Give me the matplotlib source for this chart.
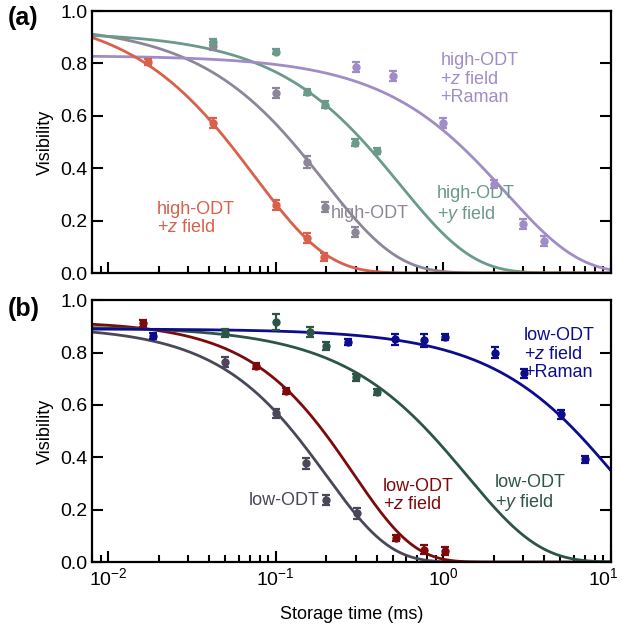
import numpy as np
import matplotlib
matplotlib.use('Agg')
import matplotlib.pyplot as plt
import matplotlib.transforms as mtransforms

plt.rcParams['font.family'] = ['Liberation Sans', 'DejaVu Sans']
plt.rcParams['mathtext.fontset'] = 'custom'
plt.rcParams['mathtext.rm'] = 'Liberation Sans'
plt.rcParams['mathtext.it'] = 'Liberation Sans:italic'

# ---- panel (a): high-ODT data (storage time in ms, visibility, error) ----
t_hz = [0.0173, 0.0423, 0.100, 0.154, 0.193]
v_hz = [0.805, 0.573, 0.260, 0.134, 0.061]
e_hz = [0.012, 0.020, 0.020, 0.020, 0.015]

t_h = [0.0423, 0.100, 0.154, 0.197, 0.298]
v_h = [0.868, 0.687, 0.424, 0.252, 0.156]
e_h = [0.015, 0.020, 0.022, 0.020, 0.018]

t_hy = [0.0423, 0.100, 0.154, 0.197, 0.298, 0.403]
v_hy = [0.882, 0.845, 0.690, 0.643, 0.498, 0.466]
e_hy = [0.012, 0.010, 0.012, 0.012, 0.012, 0.012]

t_hzr = [0.300, 0.502, 1.00, 2.00, 3.00, 4.00]
v_hzr = [0.786, 0.752, 0.573, 0.340, 0.187, 0.122]
e_hzr = [0.018, 0.020, 0.020, 0.015, 0.018, 0.018]

# ---- panel (b): low-ODT data ----
t_l = [0.050, 0.100, 0.151, 0.200, 0.305]
v_l = [0.764, 0.568, 0.377, 0.237, 0.186]
e_l = [0.018, 0.018, 0.020, 0.020, 0.020]

t_lz = [0.0161, 0.0763, 0.1155, 0.52, 0.77, 1.02]
v_lz = [0.911, 0.748, 0.653, 0.093, 0.048, 0.043]
e_lz = [0.012, 0.012, 0.012, 0.012, 0.018, 0.015]

t_ly = [0.050, 0.100, 0.159, 0.200, 0.302, 0.400]
v_ly = [0.873, 0.917, 0.879, 0.826, 0.705, 0.648]
e_ly = [0.015, 0.030, 0.020, 0.015, 0.012, 0.012]

t_lzr = [0.0185, 0.268, 0.515, 0.77, 1.02, 2.04, 3.05, 5.05, 7.03]
v_lzr = [0.863, 0.839, 0.850, 0.847, 0.860, 0.800, 0.720, 0.564, 0.392]
e_lzr = [0.012, 0.012, 0.020, 0.025, 0.012, 0.020, 0.018, 0.018, 0.012]

# fitted decay V = A*exp(-(t/tau)^p): [A, tau, p]
fit_hz = [1.00, 0.075, 1.0]
fit_h = [0.95, 0.195, 1.0]
fit_hy = [0.92, 0.55, 1.0]
fit_hzr = [0.83, 2.37, 1.0]
fit_l = [0.90, 0.20, 1.15]
fit_lz = [0.92, 0.29, 1.2]
fit_ly = [0.90, 1.38, 1.0]
fit_lzr = [0.89, 10.7, 1.0]

c_hz, c_h, c_hy, c_hzr = '#d9604a', '#8d8698', '#6b9a8a', '#a08cc6'
c_l, c_lz, c_ly, c_lzr = '#4b4759', '#7d0a0a', '#2d5547', '#0c0c8c'

tt = np.logspace(np.log10(0.008), 1, 400)


def decay(t, par):
    A, tau, p = par
    return A * np.exp(-(t / tau) ** p)


def series(ax, t, v, e, par, col):
    ax.plot(tt, decay(tt, par), color=col, lw=2.0, zorder=2)
    ax.errorbar(t, v, yerr=e, fmt='o', color=col, ms=5, capsize=3,
                elinewidth=1.6, capthick=1.6, zorder=3)


fig = plt.figure(figsize=(6.22, 6.33), dpi=100)
ax1 = fig.add_axes([0.148, 0.5687, 0.834, 0.4139])
ax2 = fig.add_axes([0.148, 0.112, 0.834, 0.4139])

series(ax1, t_h, v_h, e_h, fit_h, c_h)
series(ax1, t_hy, v_hy, e_hy, fit_hy, c_hy)
series(ax1, t_hzr, v_hzr, e_hzr, fit_hzr, c_hzr)
series(ax1, t_hz, v_hz, e_hz, fit_hz, c_hz)

series(ax2, t_l, v_l, e_l, fit_l, c_l)
series(ax2, t_lz, v_lz, e_lz, fit_lz, c_lz)
series(ax2, t_ly, v_ly, e_ly, fit_ly, c_ly)
series(ax2, t_lzr, v_lzr, e_lzr, fit_lzr, c_lzr)

fs = 13
kw = dict(fontsize=fs, ha='left', va='center', linespacing=1.1)
ax1.text(0.0196, 0.208, 'high-ODT\n+$z$ field', color=c_hz, **kw)
ax1.text(0.214, 0.229, 'high-ODT', color=c_h, **kw)
ax1.text(0.92, 0.26, 'high-ODT\n+$y$ field', color=c_hy, **kw)
ax1.text(0.96, 0.74, 'high-ODT\n+$z$ field\n+Raman', color=c_hzr, **kw)

ax2.text(0.0686, 0.237, 'low-ODT', color=c_l, **kw)
ax2.text(0.437, 0.255, 'low-ODT\n+$z$ field', color=c_lz, **kw)
ax2.text(2.04, 0.261, 'low-ODT\n+$y$ field', color=c_ly, **kw)
ax2.text(3.04, 0.794, 'low-ODT\n+$z$ field\n+Raman', color=c_lzr, **kw)

for ax in (ax1, ax2):
    ax.set_xscale('log')
    ax.set_xlim(0.008, 10)
    ax.set_ylim(0, 1)
    ax.set_yticks([0, 0.2, 0.4, 0.6, 0.8, 1.0])
    ax.set_yticklabels(['0.0', '0.2', '0.4', '0.6', '0.8', '1.0'])
    ax.tick_params(which='both', direction='in', top=False, right=True,
                   labelsize=14, width=1.5)
    ax.tick_params(which='major', length=8)
    ax.tick_params(which='minor', length=5)
    ax.set_ylabel('Visibility', fontsize=fs)
    for s in ax.spines.values():
        s.set_linewidth(1.6)

ax1.tick_params(labelbottom=False)
ax2.set_xlabel('Storage time (ms)', fontsize=fs, labelpad=12)

# pull the last x tick label (10^1) slightly inside the figure
fig.canvas.draw()
last = [lb for lb in ax2.get_xticklabels() if lb.get_position()[0] == 10][0]
last.set_transform(last.get_transform() +
                   mtransforms.ScaledTranslation(-5 / 72, 0, fig.dpi_scale_trans))

fig.text(0.012, 0.972, '(a)', fontsize=18, fontweight='bold', va='center')
fig.text(0.012, 0.512, '(b)', fontsize=18, fontweight='bold', va='center')

fig.savefig('out.png', dpi=100)
